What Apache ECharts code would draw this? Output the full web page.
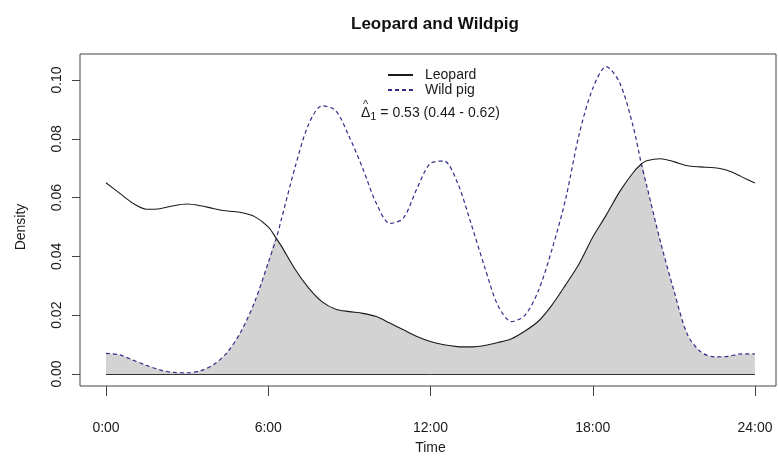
<!DOCTYPE html>
<html>
<head>
<meta charset="utf-8">
<script src="https://cdn.jsdelivr.net/npm/echarts@6/dist/echarts.min.js"></script>
<style>
html, body { margin: 0; padding: 0; background: #fff; }
#main { width: 778px; height: 460px; }
</style>
</head>
<body>
<div id="main"></div>
<script>
// time of day (hours), crossing points 6.3 and 19.8 included
var hours = [0, 0.5, 1, 1.5, 2, 2.5, 3, 3.5, 4, 4.5, 5, 5.5, 6, 6.3, 6.5, 7, 7.5, 8, 8.5, 9, 9.5, 10,
	10.5, 11, 11.5, 12, 12.5, 13, 13.5, 14, 14.5, 15, 15.5, 16, 16.5, 17, 17.5, 18, 18.5, 19, 19.5, 19.8,
	20, 20.5, 21, 21.5, 22, 22.5, 23, 23.5, 24];
var leopard = [0.0650, 0.0615, 0.0580, 0.0560, 0.0562, 0.0572, 0.0578, 0.0572, 0.0562, 0.0554, 0.0549, 0.0535, 0.0500, 0.0461, 0.0433, 0.0355, 0.0292, 0.0245, 0.0220, 0.0212, 0.0206, 0.0195,
	0.0173, 0.0150, 0.0127, 0.0110, 0.0099, 0.0093, 0.0092, 0.0097, 0.0107, 0.0120, 0.0146, 0.0180, 0.0235, 0.0303, 0.0375, 0.0465, 0.0540, 0.0620, 0.0685, 0.0714,
	0.0725, 0.0732, 0.0722, 0.0708, 0.0704, 0.0701, 0.0692, 0.0671, 0.0649];
var wildpig = [0.0070, 0.0065, 0.0047, 0.0029, 0.0014, 0.0005, 0.0004, 0.0011, 0.0033, 0.0075, 0.0145, 0.0245, 0.0378, 0.0461, 0.0530, 0.0705, 0.0850, 0.0912, 0.0895, 0.0806, 0.0698, 0.0580,
	0.0512, 0.0530, 0.0630, 0.0716, 0.0724, 0.0650, 0.0512, 0.0365, 0.0232, 0.0178, 0.0200, 0.0285, 0.0425, 0.0595, 0.0815, 0.0970, 0.1045, 0.0990, 0.0841, 0.0714,
	0.0640, 0.0452, 0.0285, 0.0135, 0.0075, 0.0058, 0.0060, 0.0068, 0.0068];
var xTickStep = 6;    // 0:00 .. 24:00
var yTickStep = 0.02; // 0.00 .. 0.10

var font = '"Liberation Sans", Arial, sans-serif';
var textColor = '#1a1a1a';
var boxColor = '#444';

var pair = function(ys) {
	return hours.map(function(h, i) { return [h, ys[i]]; });
};
// overlap = min of both densities
var overlap = hours.map(function(h, i) { return [h, Math.min(leopard[i], wildpig[i])]; });

var myChart = echarts.init(document.getElementById('main'), null, { renderer: 'canvas' });
var option = {
	animation: false,
	backgroundColor: '#fff',
	title: {
		text: 'Leopard and Wildpig',
		left: 430,
		textAlign: 'center',
		top: 11,
		textStyle: { fontFamily: font, fontSize: 17, fontWeight: 'bold', color: '#111' }
	},
	legend: {
		data: ['Leopard', 'Wild pig'],
		orient: 'vertical',
		left: 382,
		top: 63,
		itemWidth: 25,
		itemHeight: 14,
		itemGap: 1,
		itemStyle: { opacity: 0 },
		textStyle: { fontFamily: font, fontSize: 14, color: textColor, padding: [0, 0, 0, 7] }
	},
	grid: [{
		// plotting box (4% padding around data range like R)
		show: true,
		left: 80,
		right: 2,
		top: 54,
		bottom: 74,
		borderColor: boxColor,
		borderWidth: 1
	}, {
		// data range only: carries the R style axes
		show: false,
		left: 106,
		right: 23,
		top: 80,
		bottom: 86
	}],
	xAxis: [{
		type: 'value',
		gridIndex: 0,
		min: -0.96,
		max: 24.78,
		show: false
	}, {
		type: 'value',
		gridIndex: 1,
		min: 0,
		max: 24,
		interval: xTickStep,
		offset: 12,
		name: 'Time',
		nameLocation: 'middle',
		nameGap: 55,
		nameTextStyle: { fontFamily: font, fontSize: 14, color: textColor },
		axisLine: { show: false, onZero: false },
		splitLine: { show: false },
		axisTick: { show: true, inside: false, length: 10, lineStyle: { color: boxColor } },
		axisLabel: {
			margin: 35,
			fontFamily: font, fontSize: 14, color: textColor,
			formatter: function(v) { return v + ':00'; }
		}
	}],
	yAxis: [{
		type: 'value',
		gridIndex: 0,
		min: -0.0041,
		max: 0.1088,
		show: false
	}, {
		type: 'value',
		gridIndex: 1,
		min: 0,
		max: 0.10,
		interval: yTickStep,
		offset: 26,
		name: 'Density',
		nameLocation: 'middle',
		nameGap: 52,
		nameMoveOverlap: false,
		nameRotate: 90,
		nameTextStyle: { fontFamily: font, fontSize: 14, color: textColor },
		axisLine: { show: false, onZero: false },
		splitLine: { show: false },
		axisTick: { show: true, inside: false, length: 8, lineStyle: { color: boxColor } },
		axisLabel: {
			rotate: 90,
			margin: 16,
			fontFamily: font, fontSize: 14, color: textColor,
			formatter: function(v) { return v.toFixed(2); }
		}
	}],
	graphic: [{
		type: 'text',
		left: 361,
		top: 106,
		style: {
			text: '{d|Δ}{s|1}{t| = 0.53 (0.44 - 0.62)}',
			rich: {
				d: { fontFamily: font, fontSize: 14, fill: textColor },
				s: { fontFamily: font, fontSize: 11, fill: textColor, padding: [7, 0, 0, 0] },
				t: { fontFamily: font, fontSize: 14, fill: textColor }
			}
		}
	}, {
		type: 'text',
		left: 363,
		top: 99,
		style: { text: '^', fontFamily: font, fontSize: 11, fill: textColor }
	}],
	series: [{
		name: 'overlap',
		type: 'line',
		data: overlap,
		smooth: 0.3,
		symbol: 'none',
		lineStyle: { width: 0 },
		areaStyle: { color: '#d3d3d3', opacity: 1, origin: 0 },
		markLine: {
			silent: true,
			symbol: 'none',
			label: { show: false },
			lineStyle: { color: '#333', width: 1, type: 'solid' },
			data: [[{ coord: [0, 0] }, { coord: [24, 0] }]]
		},
		z: 1
	}, {
		name: 'Leopard',
		type: 'line',
		data: pair(leopard),
		smooth: 0.3,
		symbol: 'none',
		itemStyle: { color: '#1a1a1a' },
		lineStyle: { color: '#1a1a1a', width: 1.1, type: 'solid' },
		z: 3
	}, {
		name: 'Wild pig',
		type: 'line',
		data: pair(wildpig),
		smooth: 0.3,
		symbol: 'none',
		itemStyle: { color: '#2e2e8a' },
		lineStyle: { color: '#2e2e8a', width: 1.2, type: [4, 3] },
		z: 2
	}]
};
myChart.setOption(option);
</script>
</body>
</html>
